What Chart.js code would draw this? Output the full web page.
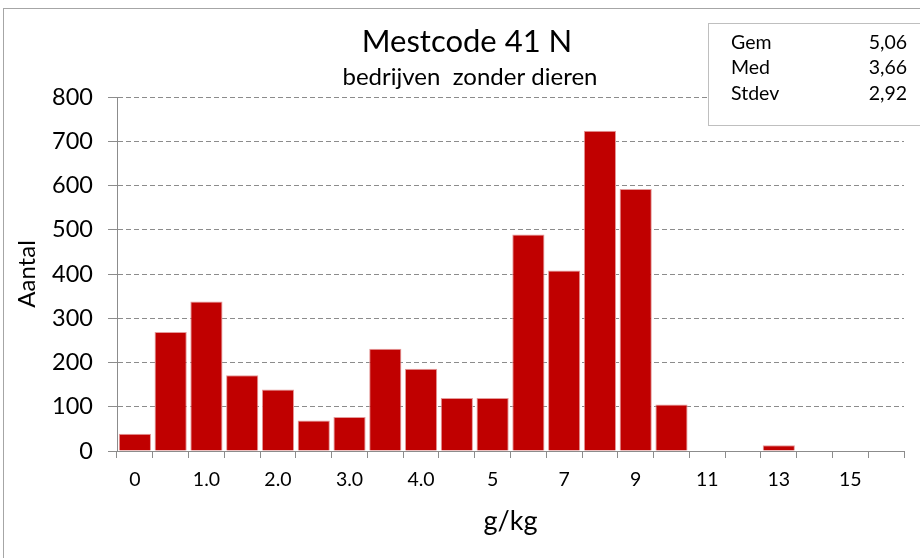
<!DOCTYPE html>
<html>
<head>
<meta charset="utf-8">
<script src="https://cdn.jsdelivr.net/npm/chart.js@4/dist/chart.umd.min.js"></script>
<style>
  html, body { margin: 0; padding: 0; background: #fff; }
  #wrap { width: 920px; height: 558px; position: relative; }
</style>
</head>
<body>
<div id="wrap"><canvas id="chart"></canvas></div>
<script>
// histogram classes (g/kg) and counts
const categories = ['0', '0.5', '1.0', '1.5', '2.0', '2.5', '3.0', '3.5', '4.0', '4.5',
  '5', '6', '7', '8', '9', '10', '11', '12', '13', '14', '15', '16'];
const counts = [39, 269, 338, 171, 139, 69, 77, 231, 186, 120,
  120, 489, 408, 724, 592, 105, 1, 0, 13, 0, 0, 0];
// only every second class gets a label on the axis
const shownLabels = ['0', '1.0', '2.0', '3.0', '4.0', '5', '7', '9', '11', '13', '15'];
const yTicks = [0, 100, 200, 300, 400, 500, 600, 700, 800];

const statNames = ['Gem', 'Med', 'Stdev'];
const statValues = ['5,06', '3,66', '2,92'];

const FONT = 'Lato, "Open Sans", sans-serif';

// titles, outer frame and the statistics box
const decorations = {
  id: 'decorations',
  afterDraw(chart) {
    const ctx = chart.ctx;
    ctx.save();
    ctx.strokeStyle = '#a6a6a6';
    ctx.lineWidth = 1;
    ctx.strokeRect(3.5, 8.5, 1000, 1000);

    ctx.fillStyle = '#000';
    ctx.textAlign = 'center';
    ctx.textBaseline = 'middle';
    ctx.font = '31px ' + FONT;
    ctx.fillText('Mestcode 41 N', 467, 42);
    ctx.font = '24px ' + FONT;
    ctx.fillText('bedrijven  zonder dieren', 470, 77);

    // stats box
    ctx.fillStyle = '#fff';
    ctx.fillRect(708.5, 23.5, 300, 102);
    ctx.strokeStyle = '#bfbfbf';
    ctx.strokeRect(708.5, 23.5, 300, 102);
    ctx.fillStyle = '#000';
    ctx.font = '19.5px ' + FONT;
    const rowY = [43, 68, 94];
    statNames.forEach((name, i) => {
      ctx.textAlign = 'left';
      ctx.fillText(name, 731, rowY[i]);
      ctx.textAlign = 'right';
      ctx.fillText(statValues[i], 907, rowY[i]);
    });
    ctx.restore();
  }
};

new Chart(document.getElementById('chart'), {
  type: 'bar',
  data: {
    labels: categories,
    datasets: [{
      data: counts,
      backgroundColor: '#c00000',
      borderColor: '#e59a9a',
      borderWidth: 1,
      categoryPercentage: 1.0,
      barPercentage: 0.9
    }]
  },
  options: {
    responsive: true,
    maintainAspectRatio: false,
    animation: false,
    layout: { padding: { top: 97, right: 16, left: 0, bottom: 0 } },
    plugins: {
      legend: { display: false },
      tooltip: { enabled: false }
    },
    scales: {
      x: {
        grid: {
          display: true,
          offset: true,
          drawOnChartArea: false,
          drawTicks: true,
          tickLength: 7,
          color: '#8c8c8c'
        },
        border: { display: true, color: '#8c8c8c', width: 1 },
        ticks: {
          autoSkip: false,
          maxRotation: 0,
          padding: 10,
          color: '#000',
          font: { family: FONT, size: 19.5 },
          callback: function (v, i) {
            const lbl = categories[i];
            return shownLabels.includes(lbl) ? lbl : '';
          }
        },
        title: {
          display: true,
          text: 'g/kg',
          color: '#000',
          font: { family: FONT, size: 27 },
          padding: { top: 0, bottom: 21 }
        },
        afterFit: scale => { scale.height = 107; }
      },
      y: {
        min: 0,
        max: 800,
        afterBuildTicks: scale => { scale.ticks = yTicks.map(v => ({ value: v })); },
        grid: {
          color: ctx => (ctx.tick && ctx.tick.value === 0) ? 'rgba(0,0,0,0)' : '#8c8c8c',
          tickColor: '#8c8c8c',
          tickBorderDash: [],
          tickLength: 9,
          lineWidth: 1
        },
        border: { display: true, color: '#8c8c8c', width: 1, dash: [5, 3] },
        ticks: {
          padding: 15,
          color: '#000',
          font: { family: FONT, size: 23.5 }
        },
        title: {
          display: true,
          text: 'Aantal',
          color: '#000',
          font: { family: FONT, size: 24 },
          padding: { top: 13, bottom: 0 }
        },
        afterFit: scale => { scale.width = 117; }
      }
    }
  },
  plugins: [decorations]
});
</script>
</body>
</html>
